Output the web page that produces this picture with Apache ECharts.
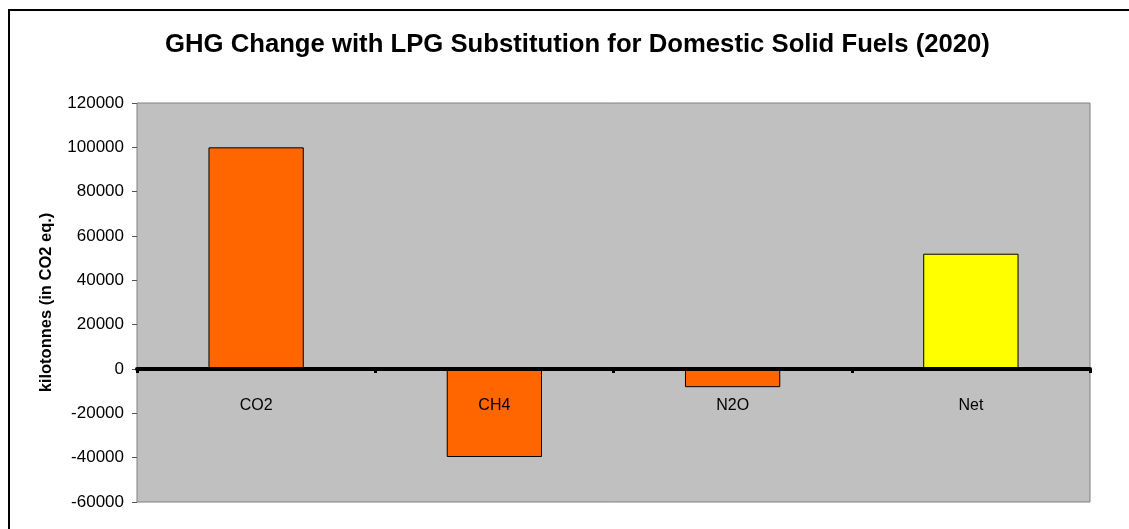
<!DOCTYPE html>
<html>
<head>
    <meta charset="utf-8">
    <title>GHG Change with LPG Substitution</title>
    <script src="https://cdn.jsdelivr.net/npm/echarts@6/dist/echarts.min.js"></script>
</head>
<body style="margin:0;background:#fff;">

<!-- chart container -->
<div id="chart1" style="width:1129px;height:529px;"></div>

<script>
    // data
    var gases = ['CO2', 'CH4', 'N2O', 'Net'];
    var ghgChange = [100000, -39700, -8200, 52000];
    var yTicks = [-60000, -40000, -20000, 0, 20000, 40000, 60000, 80000, 100000, 120000];

    var barColors = ['#FF6600', '#FF6600', '#FF6600', '#FFFF00'];
    var font = 'Liberation Sans, Arial, sans-serif';

    var myChart1 = echarts.init(document.getElementById('chart1'));

    myChart1.setOption({
        backgroundColor: '#fff',
        animation: false,
        title: {
            text: 'GHG Change with LPG Substitution for Domestic Solid Fuels (2020)',
            left: 160,
            top: 27,
            textStyle: {
                fontFamily: font,
                fontSize: 25.7,
                fontWeight: 'bold',
                color: '#000'
            }
        },
        // outer chart frame
        graphic: [{
            type: 'rect',
            shape: { x: 9, y: 10, width: 1140, height: 540 },
            style: { fill: 'none', stroke: '#000', lineWidth: 2 },
            silent: true
        }],
        grid: {
            left: 137,
            right: 39,
            top: 103,
            bottom: 27,
            outerBoundsMode: 'none',
            containLabel: false,
            show: true,
            backgroundColor: '#C0C0C0',
            borderColor: '#808080',
            borderWidth: 1
        },
        xAxis: {
            type: 'category',
            data: gases,
            z: 5,
            axisLine: {
                onZero: true,
                lineStyle: { color: '#000', width: 4 }
            },
            axisTick: {
                show: true,
                length: 4,
                lineStyle: { color: '#000', width: 3 }
            },
            axisLabel: {
                // labels stay at the grid bottom, pull them up under the zero line
                margin: -104,
                fontFamily: font,
                fontSize: 16,
                color: '#000'
            },
            splitLine: { show: false }
        },
        yAxis: {
            type: 'value',
            min: yTicks[0],
            max: yTicks[yTicks.length - 1],
            interval: 20000,
            name: 'kilotonnes (in CO2 eq.)',
            nameLocation: 'middle',
            nameGap: 82,
            nameTextStyle: {
                fontFamily: font,
                fontSize: 16.5,
                fontWeight: 'bold',
                color: '#000'
            },
            axisLine: { show: false },
            axisTick: {
                show: true,
                length: 5,
                lineStyle: { color: '#555', width: 1 }
            },
            axisLabel: {
                margin: 13,
                fontFamily: font,
                fontSize: 17,
                color: '#000',
                formatter: function (v) { return String(v); }
            },
            splitLine: { show: false }
        },
        series: [{
            type: 'bar',
            barWidth: '40%',
            z: 2,
            data: ghgChange.map(function (v, i) {
                return {
                    value: v,
                    itemStyle: { color: barColors[i] }
                };
            }),
            itemStyle: {
                borderColor: '#000',
                borderWidth: 1
            }
        }]
    });
</script>
</body>
</html>
